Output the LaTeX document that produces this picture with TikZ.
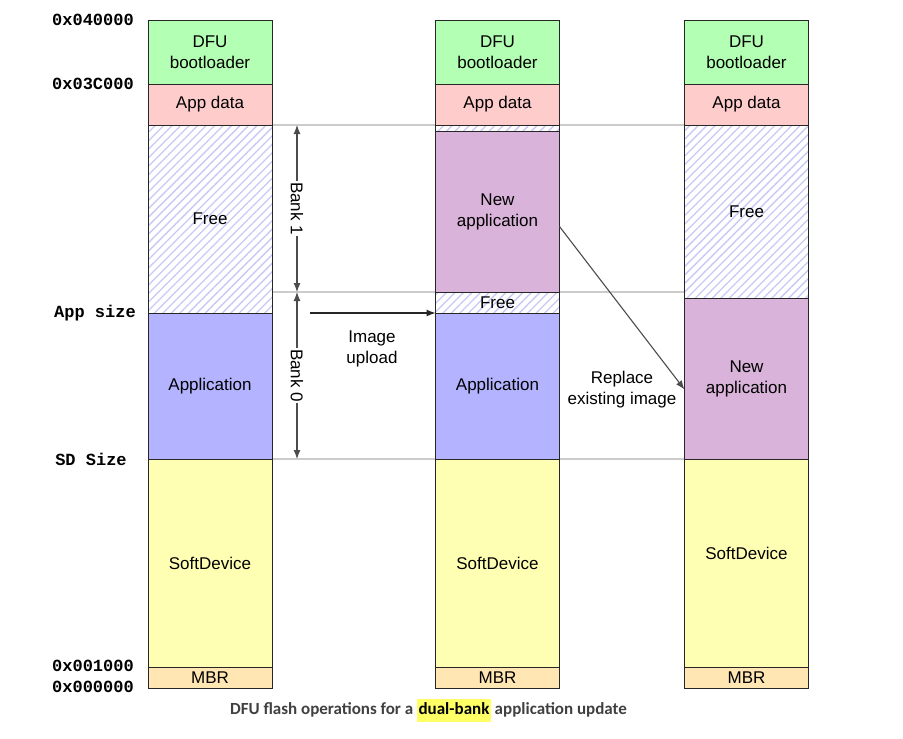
\documentclass[tikz,border=0pt]{standalone}
\usepackage{fontspec}
\setmainfont{Liberation Sans}
\setmonofont{Liberation Mono}
\newfontfamily\captionfont{Carlito}
\usetikzlibrary{positioning, arrows.meta, patterns.meta, backgrounds}
\definecolor{bootgreen}{HTML}{B3FFB3}
\definecolor{datared}{HTML}{FFCCCC}
\definecolor{appblue}{HTML}{B3B3FF}
\definecolor{newpurple}{HTML}{D9B3D9}
\definecolor{sdyellow}{HTML}{FFFFB3}
\definecolor{mbrorange}{HTML}{FFE6B3}
\definecolor{hatchblue}{HTML}{C8C8F5}
\definecolor{capgray}{HTML}{404040}
\definecolor{hlyellow}{HTML}{FFFF66}

\begin{document}
\begin{tikzpicture}[x=1pt, y=-1pt,
    cell/.style={draw=black!85, line width=1pt, fill=#1, minimum width=124pt,
        inner sep=0pt, outer sep=0pt, align=center,
        font=\fontsize{17}{21}\selectfont},
    free/.style={draw=black!85, line width=1pt, minimum width=124pt,
        inner sep=0pt, outer sep=0pt, align=center,
        font=\fontsize{17}{21}\selectfont,
        pattern={Lines[angle=45, distance=6pt, line width=1.3pt]},
        pattern color=hatchblue},
    addr/.style={font=\ttfamily\bfseries\fontsize{17}{20}\selectfont},
    textlbl/.style={align=center, font=\fontsize{17}{21}\selectfont},
    banklabel/.style={midway, rotate=-90, fill=white, inner sep=1pt,
        font=\fontsize{17}{20}\selectfont},
    dim/.style={{Latex[length=9pt,width=7pt]}-{Latex[length=9pt,width=7pt]},
        draw=black!70, line width=1.1pt},
    guide/.style={draw=black!20, line width=1.5pt},
    >={Latex[length=9pt,width=7pt]}
]
    \useasboundingbox (0,0) rectangle (903,739);

    % Addresses
    \node[addr] (a40) at (93,20) {0x040000};
    \node[addr] (a3c) at (93,84) {0x03C000};
    \node[addr] (aapp) at (95,313) {App size};
    \node[addr] (asd) at (91,459) {SD Size};
    \node[addr] (a01) at (93,666) {0x001000};
    \node[addr] (a00) at (93,687) {0x000000};

    % Column 1 (current image)
    \node[cell=bootgreen, minimum height=64pt, anchor=north] (boot1) at (210,20) {DFU\\bootloader};
    \node[cell=datared, minimum height=41pt, below=0pt of boot1] (data1) {App data};
    \node[free, minimum height=188pt, below=0pt of data1] (free1) {Free};
    \node[cell=appblue, minimum height=146pt, below=0pt of free1] (app1) {Application};
    \node[cell=sdyellow, minimum height=208pt, below=0pt of app1] (sd1) {SoftDevice};
    \node[cell=mbrorange, minimum height=21pt, below=0pt of sd1] (mbr1) {MBR};

    % Column 2 (new image in bank 1)
    \node[cell=bootgreen, minimum height=64pt, anchor=north] (boot2) at (497.5,20) {DFU\\bootloader};
    \node[cell=datared, minimum height=41pt, below=0pt of boot2] (data2) {App data};
    \node[free, minimum height=6pt, below=0pt of data2] (gap2) {};
    \node[cell=newpurple, minimum height=161pt, below=0pt of gap2] (new2) {New\\application};
    \node[free, minimum height=21pt, below=0pt of new2] (free2) {Free};
    \node[cell=appblue, minimum height=146pt, below=0pt of free2] (app2) {Application};
    \node[cell=sdyellow, minimum height=208pt, below=0pt of app2] (sd2) {SoftDevice};
    \node[cell=mbrorange, minimum height=21pt, below=0pt of sd2] (mbr2) {MBR};

    % Column 3 (after swap)
    \node[cell=bootgreen, minimum height=64pt, anchor=north] (boot3) at (746.5,20) {DFU\\bootloader};
    \node[cell=datared, minimum height=41pt, below=0pt of boot3] (data3) {App data};
    \node[free, minimum height=173pt, below=0pt of data3] (free3) {Free};
    \node[cell=newpurple, minimum height=161pt, below=0pt of free3] (new3) {New\\application};
    \node[cell=sdyellow, minimum height=208pt, below=0pt of new3] (sd3) {};
    \node[textlbl] (sd3txt) at ([yshift=10pt]sd3.center) {SoftDevice};
    \node[cell=mbrorange, minimum height=21pt, below=0pt of sd3] (mbr3) {MBR};

    % Bank markers
    \coordinate (banktop) at (297,125);
    \coordinate (bankmid) at (297,292);
    \coordinate (bankbot) at (297,459);
    \draw[dim] (banktop) -- node[banklabel] (bank1) {Bank 1} (bankmid);
    \draw[dim] (bankmid) -- node[banklabel] (bank0) {Bank 0} (bankbot);

    % Guide lines
    \begin{scope}[on background layer]
        \draw[guide] (free1.north east) -- (free3.north west);
        \draw[guide] (bankmid -| free1.east) -- (bankmid -| free3.west);
        \draw[guide] (app1.south east) -- (new3.south west);
    \end{scope}

    % Operations
    \coordinate (upstart) at (310,313);
    \draw[->, draw=black!85, line width=1.1pt] (upstart) -- (app2.north west);
    \node[textlbl] (uplbl) at (372,349) {Image\\upload};
    \draw[->, draw=black!70, line width=1.1pt] ([yshift=-15pt]new2.east) -- ([yshift=-11pt]new3.west);
    \node[textlbl] (replbl) at (622,390) {Replace\\existing image};

    % Caption
    \node[font=\captionfont\bfseries\fontsize{17}{20}\selectfont, text=capgray] (caption) at (428.5,710)
        {DFU flash operations for a\ {\fboxsep=1.5pt\colorbox{hlyellow}{\strut\textcolor{black}{dual-bank}}}\ application update};
\end{tikzpicture}
\end{document}
